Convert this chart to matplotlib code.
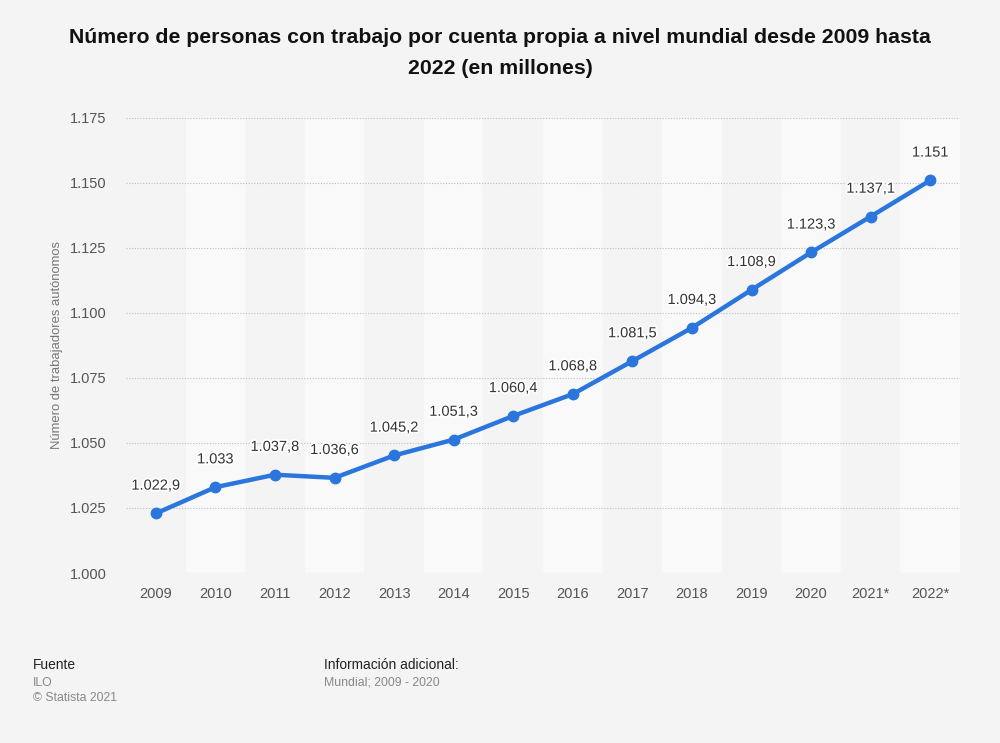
import matplotlib
matplotlib.use('Agg')
import matplotlib.pyplot as plt
import matplotlib.patheffects as pe

plt.rcParams['font.family'] = ['Liberation Sans', 'DejaVu Sans']

# Data (millions of self-employed persons)
years = ['2009', '2010', '2011', '2012', '2013', '2014', '2015', '2016',
         '2017', '2018', '2019', '2020', '2021*', '2022*']
values = [1022.9, 1033.0, 1037.8, 1036.6, 1045.2, 1051.3, 1060.4, 1068.8,
          1081.5, 1094.3, 1108.9, 1123.3, 1137.1, 1151.0]
value_labels = ['1.022,9', '1.033', '1.037,8', '1.036,6', '1.045,2', '1.051,3',
                '1.060,4', '1.068,8', '1.081,5', '1.094,3', '1.108,9', '1.123,3',
                '1.137,1', '1.151']
ytick_values = [1000, 1025, 1050, 1075, 1100, 1125, 1150, 1175]
ytick_labels = ['1.000', '1.025', '1.050', '1.075', '1.100', '1.125', '1.150', '1.175']

bg = '#f4f4f4'
fig = plt.figure(figsize=(10, 7.43), dpi=100, facecolor=bg)
ax = fig.add_axes([0.126, 0.2288, 0.834, 0.6124], facecolor=bg)

x = list(range(len(years)))

# alternating column bands
for i in x:
    if i % 2 == 1:
        ax.axvspan(i - 0.5, i + 0.5, color='#f9f9f9', zorder=0, lw=0)

ax.plot(x, values, color='#2a76dd', lw=3.2, marker='o', markersize=7.5,
        solid_capstyle='round', zorder=3)

for xi, v, lab in zip(x, values, value_labels):
    ax.annotate(lab, (xi, v), xytext=(0, 15), textcoords='offset points',
                ha='center', va='bottom', fontsize=10.5, color='#333333', zorder=4,
                path_effects=[pe.withStroke(linewidth=2.5, foreground='white')])

ax.set_xlim(-0.5, len(years) - 0.5)
ax.set_ylim(1000, 1175)
ax.set_yticks(ytick_values)
ax.set_yticklabels(ytick_labels)
ax.set_xticks(x)
ax.set_xticklabels(years)
ax.yaxis.grid(True, color='#bdbdbd', linestyle=(0, (1, 1.5)), lw=0.8)
ax.set_axisbelow(True)
ax.tick_params(axis='both', length=0, labelsize=10.5, colors='#555555')
ax.tick_params(axis='x', pad=10)
ax.tick_params(axis='y', pad=14)
for s in ax.spines.values():
    s.set_visible(False)

ax.set_ylabel('Número de trabajadores autónomos', fontsize=9.4, color='#777777', labelpad=5)

fig.text(0.5, 0.962, 'Número de personas con trabajo por cuenta propia a nivel mundial desde 2009 hasta\n2022 (en millones)',
         ha='center', va='top', fontsize=15.3, fontweight='bold', color='#111111', linespacing=1.8)

fig.text(0.033, 0.099, 'Fuente', fontsize=9.9, color='#222222', ha='left')
fig.text(0.033, 0.077, 'ILO', fontsize=8.8, color='#888888', ha='left')
fig.text(0.033, 0.056, '© Statista 2021', fontsize=8.8, color='#888888', ha='left')
fig.text(0.324, 0.099, 'Información adicional:', fontsize=9.9, color='#222222', ha='left')
fig.text(0.324, 0.077, 'Mundial; 2009 - 2020', fontsize=8.8, color='#888888', ha='left')

fig.savefig('out.png', dpi=100, facecolor=bg)
